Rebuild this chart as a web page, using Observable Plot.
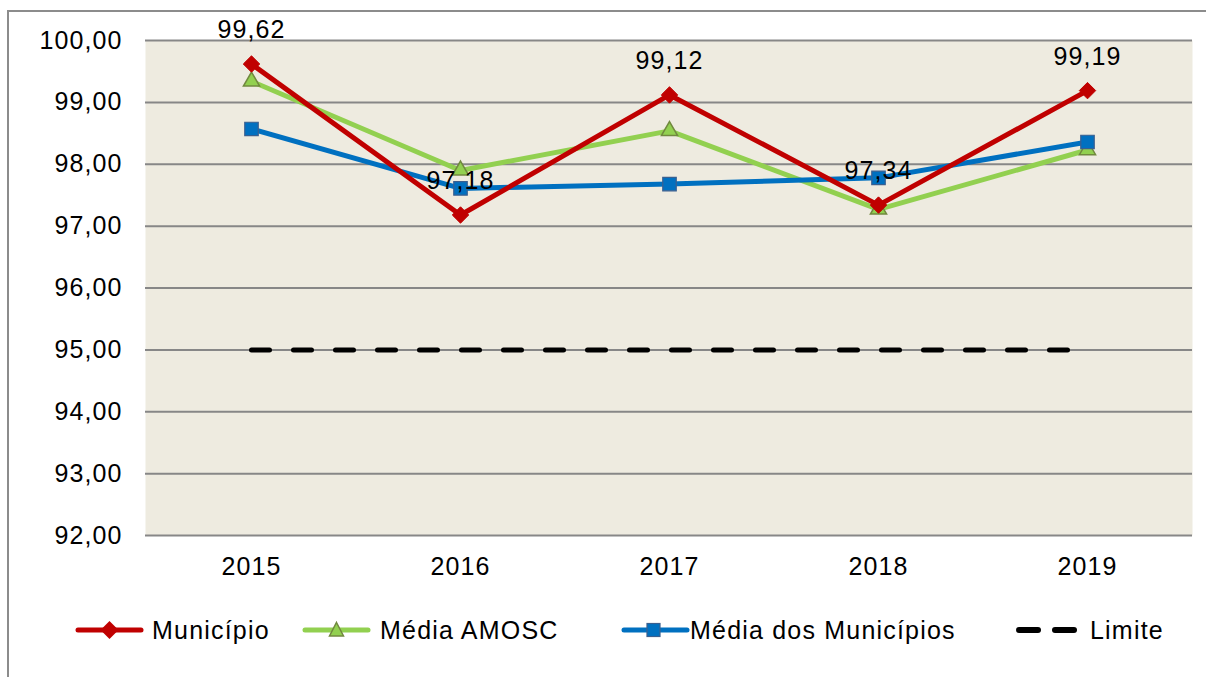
<!DOCTYPE html>
<html><head><meta charset="utf-8">
<script src="https://cdn.jsdelivr.net/npm/d3@7"></script>
<script src="https://cdn.jsdelivr.net/npm/@observablehq/plot@0.6"></script>
<style>
body{margin:0;background:#fff;font-family:"Liberation Sans",Arial,sans-serif;}
#wrap{position:relative;width:1206px;height:677px;overflow:hidden;}
#frame{position:absolute;left:7px;top:10px;width:1300px;height:700px;border-left:2px solid #8c8c8c;border-top:2px solid #8c8c8c;}
#chart{position:absolute;left:0;top:0;}
#chart svg text{letter-spacing:1.1px;}
#legend{position:absolute;top:612px;left:0;width:1206px;height:36px;font-size:25px;letter-spacing:1.2px;color:#000;}
.sw{position:absolute;top:0;}
.lb{position:absolute;top:0;height:36px;line-height:36px;white-space:nowrap;}
</style></head>
<body><div id="wrap"><div id="frame"></div><div id="chart"></div><div id="legend"></div></div>
<script>
const years = ["2015","2016","2017","2018","2019"];
const municipio = [99.62, 97.18, 99.12, 97.34, 99.19];
const mediaAmosc = [99.34, 97.90, 98.54, 97.27, 98.23];
const mediaMunicipios = [98.57, 97.61, 97.68, 97.78, 98.36];
const limite = [95, 95, 95, 95, 95];
const yTicks = [92,93,94,95,96,97,98,99,100];
const seriesNames = ["Município","Média AMOSC","Média dos Municípios","Limite"];

const fmt = v => v.toFixed(2).replace(".", ",");
const rows = (arr) => years.map((y,i)=>({year:y, value:arr[i]}));
const mun = rows(municipio), amo = rows(mediaAmosc), mm = rows(mediaMunicipios), lim = rows(limite);

const red="#C00000", green="#92D050", blue="#0070C0";

const plot = Plot.plot({
  width:1206, height:612,
  marginLeft:145, marginRight:14, marginTop:40, marginBottom:77,
  style:{fontFamily:"'Liberation Sans', Arial, sans-serif", fontSize:"25px", color:"#000", background:"transparent", overflow:"visible"},
  x:{type:"point", domain:years, padding:0.5, label:null, tickSize:0, tickPadding:22},
  y:{domain:[92,100], ticks:yTicks, tickFormat:fmt, label:null, tickSize:0, tickPadding:23},
  marks:[
    Plot.frame({fill:"#EEEBE0", stroke:null}),
    Plot.ruleY(yTicks, {stroke:"#878787", strokeWidth:2}),
    Plot.line(lim, {x:"year", y:"value", stroke:"#000", strokeWidth:5, strokeDasharray:"18,24", strokeLinecap:"round"}),
    Plot.line(amo, {x:"year", y:"value", stroke:green, strokeWidth:5}),
    Plot.line(mm, {x:"year", y:"value", stroke:blue, strokeWidth:5}),
    Plot.line(mun, {x:"year", y:"value", stroke:red, strokeWidth:5}),
    Plot.dot(amo, {x:"year", y:"value", symbol:"triangle", r:6, fill:green, stroke:"#71893F", strokeWidth:1.5}),
    Plot.dot(mm, {x:"year", y:"value", symbol:"square", r:7.6, fill:blue, stroke:"#3A5F8F", strokeWidth:1.2}),
    Plot.dot(mun, {x:"year", y:"value", symbol:"diamond2", r:7.4, fill:red, stroke:red, strokeWidth:1}),
    Plot.text(mun, {x:"year", y:"value", text:d=>fmt(d.value), dy:-34, fontSize:25, fill:"#000"})
  ]
});
document.getElementById("chart").appendChild(plot);

// legend
const legendItems = [
  {label:seriesNames[0], x:75, tx:152, color:red, sym:"diamond"},
  {label:seriesNames[1], x:302, tx:380, color:green, sym:"triangle"},
  {label:seriesNames[2], x:621, tx:690, color:blue, sym:"square"},
  {label:seriesNames[3], x:1010, tx:1090, color:"#000", sym:"dash"}
];
const leg = document.getElementById("legend");
for (const it of legendItems) {
  let inner;
  if (it.sym==="dash") {
    inner = `<line x1="9" y1="18" x2="28" y2="18" stroke="#000" stroke-width="6" stroke-linecap="round"/><line x1="45" y1="18" x2="64" y2="18" stroke="#000" stroke-width="6" stroke-linecap="round"/>`;
  } else {
    inner = `<line x1="3" y1="18" x2="66" y2="18" stroke="${it.color}" stroke-width="5" stroke-linecap="round"/>`;
    if (it.sym==="diamond") inner += `<path d="M34.5 9 L43.5 18 L34.5 27 L25.5 18 Z" fill="${red}"/>`;
    if (it.sym==="triangle") inner += `<path d="M34.5 10.5 L41.5 24 L27.5 24 Z" fill="${green}" stroke="#71893F" stroke-width="1.5"/>`;
    if (it.sym==="square") inner += `<rect x="26" y="11.5" width="13" height="13" fill="${blue}" stroke="#3A5F8F" stroke-width="1.2"/>`;
  }
  const s = document.createElement("div");
  s.className="sw"; s.style.left = it.x+"px";
  s.innerHTML = `<svg width="70" height="36" style="display:block">${inner}</svg>`;
  leg.appendChild(s);
  const t = document.createElement("div");
  t.className="lb"; t.style.left = it.tx+"px"; t.textContent = it.label;
  leg.appendChild(t);
}
</script></body></html>
